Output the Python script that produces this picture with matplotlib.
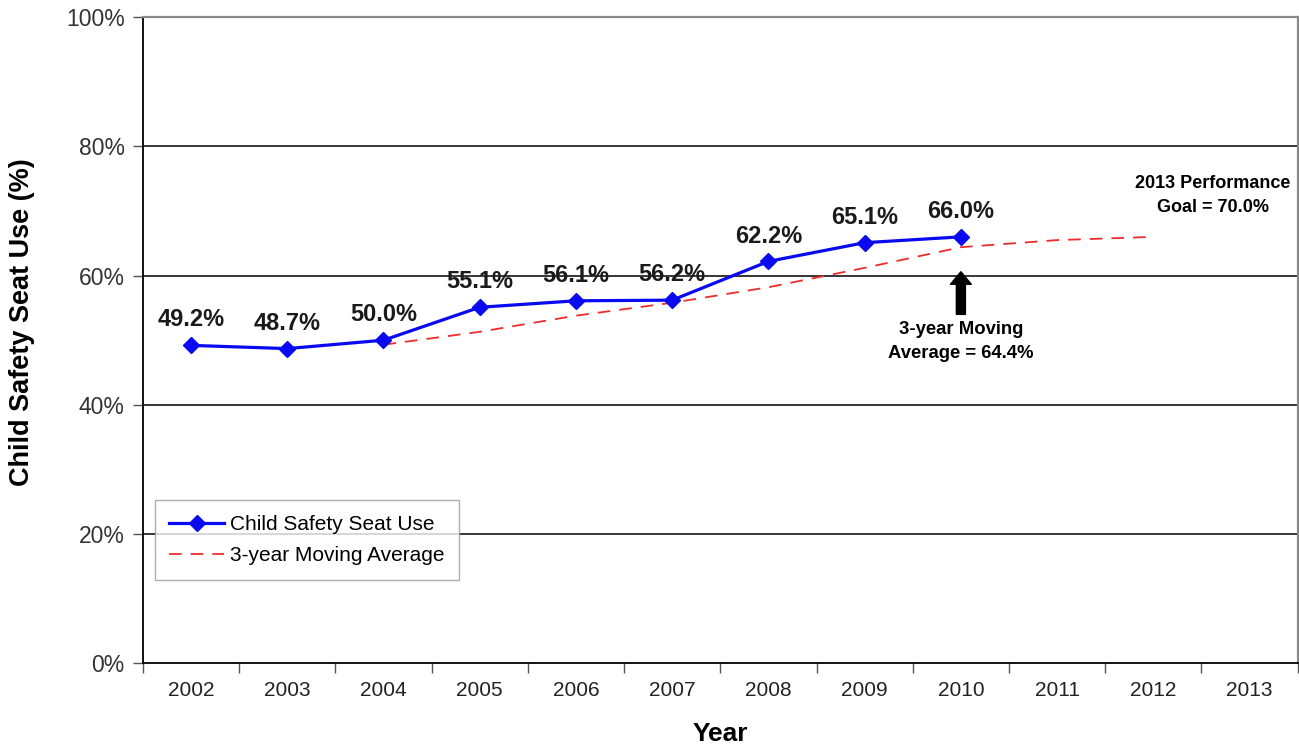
import matplotlib.pyplot as plt
from matplotlib.ticker import PercentFormatter, FixedLocator

# ---------- Data ----------
years = ['2002', '2003', '2004', '2005', '2006', '2007',
         '2008', '2009', '2010', '2011', '2012', '2013']
seat_use = [49.2, 48.7, 50.0, 55.1, 56.1, 56.2, 62.2, 65.1, 66.0]   # 2002-2010
ma_years = years[2:11]                                              # 2004-2012
moving_avg = [49.3, 51.3, 53.8, 55.8, 58.2, 61.2, 64.4, 65.5, 66.0]

plt.rcParams['font.family'] = ['Liberation Sans', 'DejaVu Sans']

fig = plt.figure(figsize=(12.99, 7.51), dpi=100)
ax = fig.add_axes([0.110, 0.117, 0.889, 0.860])

x_all = list(range(len(years)))
x_use = [years.index(y) for y in years[:len(seat_use)]]
x_ma = [years.index(y) for y in ma_years]

# Step 1: lines
ax.plot(x_use, seat_use, color='#0a0af0', lw=2.3, marker='D', markersize=8.5,
        label='Child Safety Seat Use', zorder=4)
ax.plot(x_ma, moving_avg, color='#ee2b2b', lw=1.3, ls=(0, (7, 5)),
        label='3-year Moving Average', zorder=3)

# Step 2: value labels
for xi, v in zip(x_use, seat_use):
    ax.annotate(f'{v:.1f}%', (xi, v), xytext=(0, 10), textcoords='offset points',
                ha='center', va='bottom', fontsize=17, fontweight='bold',
                color='#1a1a1a', zorder=5)

# Step 3: axes setup
ax.set_xlim(-0.5, len(years) - 0.5)
ax.set_ylim(0, 100)
ax.yaxis.set_major_locator(FixedLocator([0, 20, 40, 60, 80, 100]))
ax.yaxis.set_major_formatter(PercentFormatter(decimals=0))
ax.set_xticks(x_all)
ax.set_xticklabels(years)
ax.set_xticks([i - 0.5 for i in range(len(years) + 1)], minor=True)
ax.tick_params(axis='x', which='major', length=0, pad=13, labelsize=15, labelcolor='#222222')
ax.tick_params(axis='x', which='minor', length=7, width=1, color='#555555')
ax.tick_params(axis='y', length=7, width=1, pad=6, labelsize=16.5, labelcolor='#333333',
               color='#555555')

for y in [20, 40, 60, 80]:
    ax.axhline(y, color='black', lw=1.1, zorder=1)

ax.spines['left'].set_color('black')
ax.spines['bottom'].set_color('black')
ax.spines['left'].set_linewidth(1.3)
ax.spines['bottom'].set_linewidth(1.3)
ax.spines['top'].set_color('#8a8a8a')
ax.spines['right'].set_color('#8a8a8a')
ax.spines['top'].set_linewidth(1.6)
ax.spines['right'].set_linewidth(1.6)

ax.set_xlabel('Year', fontsize=19, fontweight='bold', labelpad=16)
ax.set_ylabel('Child Safety Seat Use (%)', fontsize=19.5, fontweight='bold')
ax.yaxis.set_label_coords(-0.093, 0.528)

# Step 4: annotations
ax.text(10.62, 72.4, '2013 Performance\nGoal = 70.0%', ha='center', va='center',
        fontsize=13, fontweight='bold', linespacing=1.5)
ax.text(8, 49.8, '3-year Moving\nAverage = 64.4%', ha='center', va='center',
        fontsize=13.3, fontweight='bold', linespacing=1.5)
ax.annotate('', xy=(8, 60.6), xytext=(8, 54.0),
            arrowprops=dict(facecolor='black', edgecolor='black',
                            width=6.5, headwidth=15, headlength=9))

# Step 5: legend
leg = ax.legend(loc='upper left', bbox_to_anchor=(0.0104, 0.252), fontsize=15,
                frameon=True, fancybox=False, edgecolor='#999999', borderaxespad=0,
                handlelength=2.6, handletextpad=0.3, borderpad=0.7, labelspacing=0.6)
leg.get_frame().set_linewidth(1.0)

fig.savefig('out.png', dpi=100)
